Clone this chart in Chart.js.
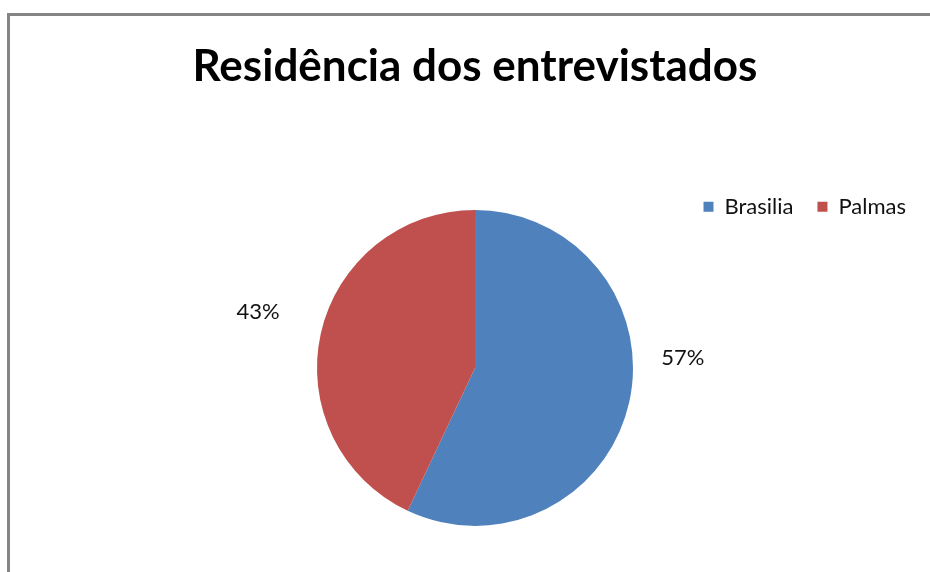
<!DOCTYPE html>
<html>
<head>
<meta charset="utf-8">
<script src="https://cdn.jsdelivr.net/npm/chart.js@4.4.1/dist/chart.umd.min.js"></script>
<style>
  html, body { margin: 0; padding: 0; background: #fff; }
  #wrap { position: relative; width: 930px; height: 572px; overflow: hidden; }
  #frame { position: absolute; left: 7px; top: 13px; width: 940px; height: 580px;
           border-left: 3px solid #858585; border-top: 3px solid #858585; }
  #c { position: absolute; left: 0; top: 0; }
</style>
</head>
<body>
<div id="wrap">
  <div id="frame"></div>
  <canvas id="c" width="930" height="572"></canvas>
</div>
<script>
// dados do gráfico
const cidades = ['Brasilia', 'Palmas'];
const percentuais = [57, 43];
const cores = ['#4F81BD', '#C0504D'];
const titulo = 'Residência dos entrevistados';

// rótulos de porcentagem fora das fatias
const rotulosFora = {
    id: 'rotulosFora',
    afterDatasetsDraw(chart, args, opts) {
        const ctx = chart.ctx;
        const meta = chart.getDatasetMeta(0);
        const valores = chart.data.datasets[0].data;
        const total = valores.reduce((a, b) => a + b, 0);
        ctx.save();
        ctx.font = opts.font;
        ctx.fillStyle = opts.color;
        ctx.textAlign = 'center';
        ctx.textBaseline = 'middle';
        meta.data.forEach((arc, i) => {
            const p = arc.getProps(['x', 'y', 'startAngle', 'endAngle', 'outerRadius'], true);
            const meio = (p.startAngle + p.endAngle) / 2 + (opts.angleShift[i] || 0) * Math.PI / 180;
            const dist = p.outerRadius + (opts.distance[i] || 40);
            const x = p.x + Math.cos(meio) * dist;
            const y = p.y + Math.sin(meio) * dist;
            ctx.fillText(Math.round(valores[i] / total * 100) + '%', x, y);
        });
        ctx.restore();
    }
};

const ctx = document.getElementById('c').getContext('2d');
new Chart(ctx, {
    type: 'pie',
    data: {
        labels: cidades,
        datasets: [{
            data: percentuais,
            backgroundColor: cores,
            borderWidth: 0,
            radius: 158 // raio fixo, maior que a área do gráfico
        }]
    },
    plugins: [rotulosFora],
    options: {
        responsive: false,
        animation: false,
        layout: { padding: { left: 20, right: 0, top: 0, bottom: 64 } },
        plugins: {
            title: {
                display: true,
                text: titulo,
                color: '#000',
                font: { family: 'Lato', size: 44, weight: 'bold' },
                padding: { top: 40, bottom: 79 }
            },
            legend: {
                position: 'top',
                align: 'end',
                labels: {
                    boxWidth: 10,
                    boxHeight: 10,
                    padding: 24,
                    color: '#111',
                    font: { family: 'Lato', size: 22 }
                }
            },
            tooltip: { enabled: false },
            rotulosFora: {
                font: '22px Lato',
                color: '#111',
                angleShift: [-15.3, 1.9],
                distance: [50, 66]
            }
        }
    }
});
</script>
</body>
</html>
